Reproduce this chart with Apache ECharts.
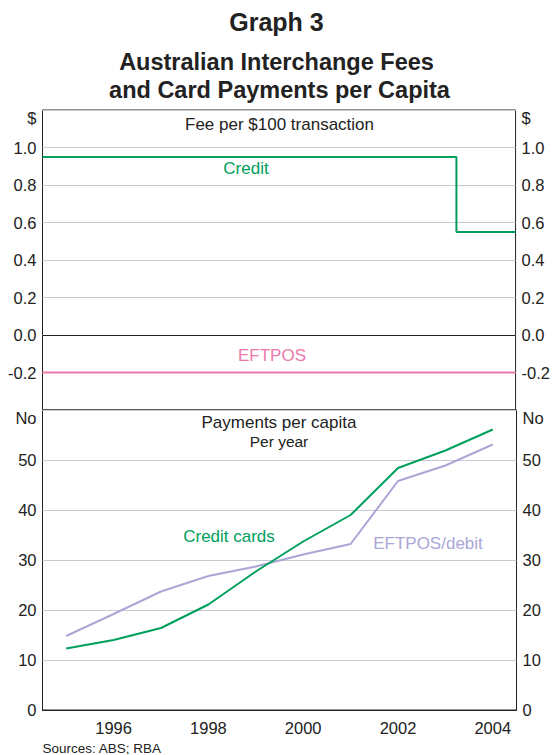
<!DOCTYPE html>
<html>
<head>
<meta charset="utf-8">
<script src="https://cdn.jsdelivr.net/npm/echarts@6/dist/echarts.min.js"></script>
<style>
html,body{margin:0;padding:0;background:#fff;}
#chart{width:553px;height:755px;}
</style>
</head>
<body>
<div id="chart"></div>
<script>
// ---- data ----
const years = ['1995','1996','1997','1998','1999','2000','2001','2002','2003','2004'];
const creditCards = [12.3, 14.0, 16.4, 21.1, 27.7, 33.7, 39.0, 48.4, 51.9, 56.1];
const eftposDebit = [14.8, 19.2, 23.7, 26.8, 28.7, 31.1, 33.2, 45.8, 48.9, 53.1];
const feeDates = [1995, 2003.75, 2005];
const creditFee = [0.95, 0.55, 0.55];
const eftposFee = [-0.2, -0.2, -0.2];
const feeTicks = [-0.4, -0.2, 0.0, 0.2, 0.4, 0.6, 0.8, 1.0, 1.2];
const countTicks = [0, 10, 20, 30, 40, 50, 60];

const FONT = 'Arial, "Liberation Sans", Helvetica, sans-serif';
const TXT = '#222';
const GRID = '#c6cad2';
const GREEN = '#00a05c';
const PINK = '#ec78aa';
const PURPLE = '#aaa6d6';

const L = 42.5, R = 36.5;

const chart = echarts.init(document.getElementById('chart'), null, {renderer: 'svg'});

function feeLabel(v) {
  if (Math.abs(v - 1.2) < 1e-6) return '{u|$}';
  if (v < -0.3) return '';
  return v.toFixed(1);
}
function countLabel(v) {
  if (v === 60) return '{u|No}';
  return String(v);
}
const unitRich = {u: {padding: [16, 0, 0, 0], fontSize: 16.5, fontFamily: FONT, color: TXT}};

function yAxisFee(pos) {
  return {
    type: 'value', gridIndex: 0, position: pos,
    min: feeTicks[0], max: feeTicks[feeTicks.length - 1], interval: 0.2,
    axisLine: {show: false}, axisTick: {show: false},
    axisLabel: {formatter: feeLabel, fontSize: 16.5, fontFamily: FONT, color: TXT, margin: 6, rich: unitRich},
    splitLine: {show: pos === 'left', lineStyle: {color: GRID, width: 1}}
  };
}
function yAxisCount(pos) {
  return {
    type: 'value', gridIndex: 1, position: pos,
    min: countTicks[0], max: countTicks[countTicks.length - 1], interval: 10,
    axisLine: {show: false}, axisTick: {show: false},
    axisLabel: {formatter: countLabel, fontSize: 16.5, fontFamily: FONT, color: TXT, margin: 6, rich: unitRich},
    splitLine: {show: pos === 'left', lineStyle: {color: GRID, width: 1}}
  };
}

const option = {
  backgroundColor: '#fff',
  animation: false,
  textStyle: {fontFamily: FONT},
  grid: [
    {left: L, right: R, top: 110, height: 300, show: true, borderColor: '#222', borderWidth: 1},
    {left: L, right: R, top: 410, height: 300, show: true, borderColor: '#222', borderWidth: 1}
  ],
  xAxis: [
    {type: 'value', gridIndex: 0, min: 1995, max: 2005, show: false},
    {type: 'category', gridIndex: 1, data: years, boundaryGap: true,
     axisLine: {lineStyle: {color: '#222', width: 1}},
     axisTick: {inside: true, length: 6, interval: 0, lineStyle: {color: '#222'}},
     axisLabel: {interval: function (i) { return i % 2 === 1; }, fontSize: 16.5, fontFamily: FONT, color: TXT, margin: 9},
     splitLine: {show: false}}
  ],
  yAxis: [yAxisFee('left'), yAxisFee('right'), yAxisCount('left'), yAxisCount('right')],
  series: [
    {type: 'line', name: 'EFTPOS fee', xAxisIndex: 0, yAxisIndex: 0,
     data: feeDates.map((d, i) => [d, eftposFee[i]]), showSymbol: false,
     lineStyle: {color: PINK, width: 2},
     markLine: {silent: true, symbol: 'none', label: {show: false},
       lineStyle: {color: '#222', width: 1, type: 'solid'}, data: [{yAxis: 0}]}},
    {type: 'line', name: 'Credit fee', xAxisIndex: 0, yAxisIndex: 0, step: 'end',
     data: feeDates.map((d, i) => [d, creditFee[i]]), showSymbol: false,
     lineStyle: {color: GREEN, width: 2}},
    {type: 'line', name: 'EFTPOS/debit', xAxisIndex: 1, yAxisIndex: 2,
     data: eftposDebit, showSymbol: false, lineStyle: {color: PURPLE, width: 2}},
    {type: 'line', name: 'Credit cards', xAxisIndex: 1, yAxisIndex: 2,
     data: creditCards, showSymbol: false, lineStyle: {color: GREEN, width: 2}}
  ],
  graphic: [
    {type: 'text', left: 'center', top: 9, style: {text: 'Graph 3', font: 'bold 25px ' + FONT, fill: TXT}},
    {type: 'text', x: 276.5, y: 62, style: {text: 'Australian Interchange Fees', font: 'bold 23.5px ' + FONT, fill: TXT, align: 'center', verticalAlign: 'middle'}},
    {type: 'text', x: 279.5, y: 90, style: {text: 'and Card Payments per Capita', font: 'bold 23.5px ' + FONT, fill: TXT, align: 'center', verticalAlign: 'middle'}},
    {type: 'text', x: 279.5, y: 124.5, style: {text: 'Fee per $100 transaction', font: '17px ' + FONT, fill: TXT, align: 'center', verticalAlign: 'middle'}},
    {type: 'text', x: 246, y: 168, style: {text: 'Credit', font: '17px ' + FONT, fill: GREEN, align: 'center', verticalAlign: 'middle'}},
    {type: 'text', x: 272, y: 355.5, style: {text: 'EFTPOS', font: '17px ' + FONT, fill: PINK, align: 'center', verticalAlign: 'middle'}},
    {type: 'text', x: 279, y: 422, style: {text: 'Payments per capita', font: '17px ' + FONT, fill: TXT, align: 'center', verticalAlign: 'middle'}},
    {type: 'text', x: 279, y: 441, style: {text: 'Per year', font: '15.5px ' + FONT, fill: TXT, align: 'center', verticalAlign: 'middle'}},
    {type: 'text', x: 229, y: 536, style: {text: 'Credit cards', font: '17px ' + FONT, fill: GREEN, align: 'center', verticalAlign: 'middle'}},
    {type: 'text', x: 428, y: 543, style: {text: 'EFTPOS/debit', font: '17px ' + FONT, fill: PURPLE, align: 'center', verticalAlign: 'middle'}},
    {type: 'text', x: 42.5, y: 748, style: {text: 'Sources: ABS; RBA', font: '13.5px ' + FONT, fill: TXT, align: 'left', verticalAlign: 'middle'}}
  ]
};
chart.setOption(option);
</script>
</body>
</html>
